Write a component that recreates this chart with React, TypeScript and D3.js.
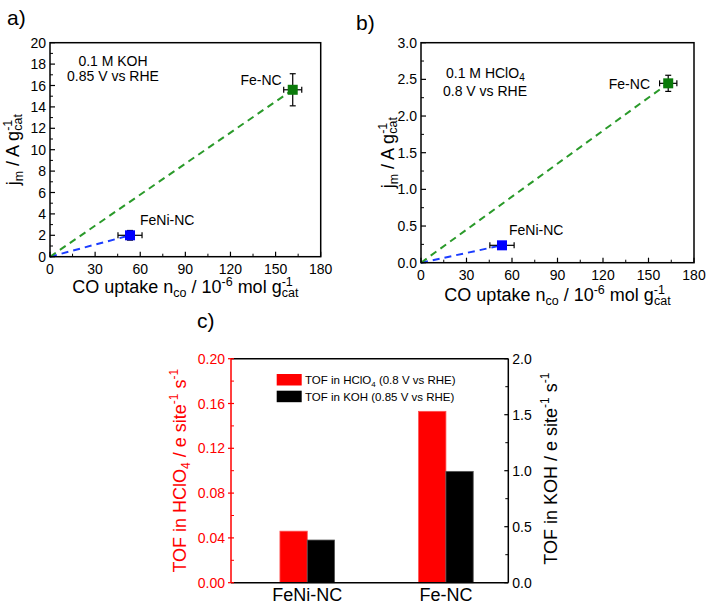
import React from "react";
import * as d3 from "d3";

const catalysts = ["FeNi-NC", "Fe-NC"];
// Panel a (0.1 M KOH, 0.85 V vs RHE)
const coUptakeA = [53.2, 161.4];
const coUptakeErrA = [8, 6];
const jmKOH = [2.0, 15.6];
const jmKOHErr = [0.45, 1.5];
// Panel b (0.1 M HClO4, 0.8 V vs RHE)
const coUptakeB = [53.4, 163];
const coUptakeErrB = [8, 5.7];
const jmHClO4 = [0.237, 2.446];
const jmHClO4Err = [0.03, 0.11];
// Panel c TOF
const tofHClO4 = [0.046, 0.153];
const tofKOH = [0.381, 0.994];

const xTicksAB = [0, 30, 60, 90, 120, 150, 180];
const yTicksA = [0, 2, 4, 6, 8, 10, 12, 14, 16, 18, 20];
const yTicksB = [0, 0.5, 1.0, 1.5, 2.0, 2.5, 3.0];
const yTicksCL = [0, 0.04, 0.08, 0.12, 0.16, 0.2];
const yTicksCR = [0, 0.5, 1.0, 1.5, 2.0];

const pointColors = ["#0000ff", "#0a7a0a"];
const lineColors = ["#1a3cff", "#2a9a2a"];
const FONT = "'Liberation Sans', Arial, sans-serif";

type Lin = d3.ScaleLinear<number, number>;

function ScatterPanel(props: {
  x: Lin; y: Lin; xs: number[]; xe: number[]; ys: number[]; ye: number[];
  yTicks: number[]; yMinor: number; yFmt: (v: number) => string;
  xLabelY: number; yLabelX: number;
}) {
  const { x, y, xs, xe, ys, ye, yTicks, yMinor, yFmt, xLabelY, yLabelX } = props;
  const [x0, x1] = x.range();
  const [yb, yt] = y.range();
  const ymax = y.domain()[1];
  const minorX = d3.range(15, 180, 30);
  const minorY = d3.range(yMinor, ymax, yMinor * 2);
  const cy = (yb + yt) / 2;
  const cx = (x0 + x1) / 2;
  return (
    <g fontFamily={FONT}>
      {xs.map((v, i) => (
        <line key={"l" + i} x1={x(0)} y1={y(0)} x2={x(v)} y2={y(ys[i])}
          stroke={lineColors[i]} strokeWidth={2} strokeDasharray="7,5" />
      ))}
      {xs.map((v, i) => (
        <g key={"p" + i} stroke="#000" strokeWidth={1.2}>
          <line x1={x(v - xe[i])} x2={x(v + xe[i])} y1={y(ys[i])} y2={y(ys[i])} />
          <line x1={x(v - xe[i])} x2={x(v - xe[i])} y1={y(ys[i]) - 3} y2={y(ys[i]) + 3} />
          <line x1={x(v + xe[i])} x2={x(v + xe[i])} y1={y(ys[i]) - 3} y2={y(ys[i]) + 3} />
          <line x1={x(v)} x2={x(v)} y1={y(ys[i] - ye[i])} y2={y(ys[i] + ye[i])} />
          <line x1={x(v) - 3} x2={x(v) + 3} y1={y(ys[i] - ye[i])} y2={y(ys[i] - ye[i])} />
          <line x1={x(v) - 3} x2={x(v) + 3} y1={y(ys[i] + ye[i])} y2={y(ys[i] + ye[i])} />
          <rect x={x(v) - 5} y={y(ys[i]) - 5} width={10} height={10} fill={pointColors[i]} stroke="none" />
        </g>
      ))}
      <rect x={x0} y={yt} width={x1 - x0} height={yb - yt} fill="none" stroke="#000" strokeWidth={1.5} />
      {xTicksAB.map((t) => (
        <g key={"xt" + t}>
          <line x1={x(t)} x2={x(t)} y1={yb} y2={yb - 5} stroke="#000" strokeWidth={1.2} />
          <text x={x(t)} y={yb + 17} fontSize={14} textAnchor="middle">{t}</text>
        </g>
      ))}
      {minorX.map((t) => (
        <line key={"xm" + t} x1={x(t)} x2={x(t)} y1={yb} y2={yb - 3} stroke="#000" strokeWidth={1} />
      ))}
      {yTicks.map((t) => (
        <g key={"yt" + t}>
          <line x1={x0} x2={x0 + 5} y1={y(t)} y2={y(t)} stroke="#000" strokeWidth={1.2} />
          <text x={x0 - 4} y={y(t) + 5} fontSize={14} textAnchor="end">{yFmt(t)}</text>
        </g>
      ))}
      {minorY.map((t) => (
        <line key={"ym" + t} x1={x0} x2={x0 + 3} y1={y(t)} y2={y(t)} stroke="#000" strokeWidth={1} />
      ))}
      <text x={cx} y={xLabelY} fontSize={18} textAnchor="middle">
        CO uptake n<tspan fontSize={12.5} dy={4}>co</tspan>
        <tspan dy={-4}> / 10</tspan><tspan fontSize={12.5} dy={-7}>-6</tspan>
        <tspan dy={7}> mol g</tspan><tspan fontSize={12.5} dy={-7}>-1</tspan>
        <tspan fontSize={12.5} dx={-11} dy={11}>cat</tspan>
      </text>
      <text transform={`translate(${yLabelX},${cy}) rotate(-90)`} fontSize={18} textAnchor="middle">
        j<tspan fontSize={12.5} dy={4}>m</tspan>
        <tspan dy={-4}> / A g</tspan><tspan fontSize={12.5} dy={-7}>-1</tspan>
        <tspan fontSize={12.5} dx={-11} dy={10}>cat</tspan>
      </text>
    </g>
  );
}

export default function App() {
  const xa = d3.scaleLinear().domain([0, 180]).range([50, 320.7]);
  const ya = d3.scaleLinear().domain([0, 20]).range([256.7, 42.7]);
  const xb = d3.scaleLinear().domain([0, 180]).range([421, 694]);
  const yb = d3.scaleLinear().domain([0, 3]).range([262.7, 42.7]);
  const xc = d3.scaleLinear().domain([0.45, 2.45]).range([231, 508.3]);
  const ycl = d3.scaleLinear().domain([0, 0.2]).range([582.7, 358.7]);
  const ycr = d3.scaleLinear().domain([0, 2]).range([582.7, 358.7]);
  const bw = 0.197;
  const cBottom = 582.7, cTop = 358.7, cL = 231, cR = 508.3;

  return (
    <svg width={708} height={604} style={{ position: "absolute", left: 0, top: 0 }}
      fontFamily={FONT}>
      <rect width={708} height={604} fill="#fff" />
      {/* panel labels */}
      <text x={7} y={25} fontSize={21}>a)</text>
      <text x={356} y={30} fontSize={21}>b)</text>
      <text x={197} y={328} fontSize={21}>c)</text>

      <ScatterPanel x={xa} y={ya} xs={coUptakeA} xe={coUptakeErrA} ys={jmKOH} ye={jmKOHErr}
        yTicks={yTicksA} yMinor={1} yFmt={(v) => String(v)} xLabelY={293} yLabelX={19} />
      <text x={113} y={66} fontSize={14} textAnchor="middle">0.1 M KOH</text>
      <text x={113} y={81} fontSize={14} textAnchor="middle">0.85 V vs RHE</text>
      <text x={xa(coUptakeA[1]) - 11} y={ya(jmKOH[1]) - 5} fontSize={14} textAnchor="end">{catalysts[1]}</text>
      <text x={140} y={225} fontSize={14}>{catalysts[0]}</text>

      <ScatterPanel x={xb} y={yb} xs={coUptakeB} xe={coUptakeErrB} ys={jmHClO4} ye={jmHClO4Err}
        yTicks={yTicksB} yMinor={0.25} yFmt={(v) => v.toFixed(1)} xLabelY={301} yLabelX={394} />
      <text x={446} y={78} fontSize={14}>0.1 M HClO<tspan fontSize={10} dy={3}>4</tspan></text>
      <text x={443} y={96} fontSize={14}>0.8 V vs RHE</text>
      <text x={650} y={89} fontSize={14} textAnchor="end">{catalysts[1]}</text>
      <text x={509} y={235} fontSize={14}>{catalysts[0]}</text>

      {/* panel c */}
      <g>
        {catalysts.map((c, i) => (
          <g key={c}>
            <rect x={xc(i + 1 - bw)} y={ycl(tofHClO4[i])} width={xc(i + 1) - xc(i + 1 - bw)}
              height={cBottom - ycl(tofHClO4[i])} fill="#ff0000" stroke="#ff5050" strokeWidth={0.8} />
            <rect x={xc(i + 1)} y={ycr(tofKOH[i])} width={xc(i + 1 + bw) - xc(i + 1)}
              height={cBottom - ycr(tofKOH[i])} fill="#000" stroke="#555" strokeWidth={0.8} />
            <text x={xc(i + 1)} y={601} fontSize={18} textAnchor="middle">{c}</text>
          </g>
        ))}
        <line x1={cL} x2={cR} y1={cTop} y2={cTop} stroke="#000" strokeWidth={1.5} />
        <line x1={cL} x2={cR} y1={cBottom} y2={cBottom} stroke="#000" strokeWidth={1.5} />
        <line x1={cL} x2={cL} y1={cTop} y2={cBottom} stroke="#ff0000" strokeWidth={1.5} />
        <line x1={cR} x2={cR} y1={cTop} y2={cBottom} stroke="#000" strokeWidth={1.5} />
        {yTicksCL.map((t) => (
          <g key={"cl" + t}>
            <line x1={cL - 3} x2={cL + 3} y1={ycl(t)} y2={ycl(t)} stroke="#ff0000" strokeWidth={1.2} />
            <text x={cL - 6} y={ycl(t) + 5} fontSize={14} fill="#ff0000" textAnchor="end">{t.toFixed(2)}</text>
          </g>
        ))}
        {d3.range(0.02, 0.2, 0.04).map((t) => (
          <line key={"clm" + t} x1={cL} x2={cL + 3} y1={ycl(t)} y2={ycl(t)} stroke="#ff0000" strokeWidth={1} />
        ))}
        {yTicksCR.map((t) => (
          <g key={"cr" + t}>
            <line x1={cR - 4} x2={cR} y1={ycr(t)} y2={ycr(t)} stroke="#000" strokeWidth={1.2} />
            <text x={cR + 4} y={ycr(t) + 5} fontSize={14} textAnchor="start">{t.toFixed(1)}</text>
          </g>
        ))}
        {d3.range(0.25, 2, 0.5).map((t) => (
          <line key={"crm" + t} x1={cR - 3} x2={cR} y1={ycr(t)} y2={ycr(t)} stroke="#000" strokeWidth={1} />
        ))}
        <rect x={276.7} y={374} width={25} height={11.5} fill="#ff0000" />
        <rect x={276.7} y={390.7} width={25} height={11.5} fill="#000" />
        <text x={305} y={384} fontSize={11.5}>TOF in HClO<tspan fontSize={8} dy={2.5}>4</tspan><tspan dy={-2.5}> (0.8 V vs RHE)</tspan></text>
        <text x={305} y={400.5} fontSize={11.5}>TOF in KOH (0.85 V vs RHE)</text>
        <text transform={`translate(186,${(cTop + cBottom) / 2}) rotate(-90)`} fontSize={18}
          fill="#ff0000" textAnchor="middle">
          TOF in HClO<tspan fontSize={12} dy={4}>4</tspan><tspan dy={-4}> / e site</tspan>
          <tspan fontSize={12} dy={-8}>-1</tspan><tspan dy={8}> s</tspan>
          <tspan fontSize={12} dy={-8}>-1</tspan>
        </text>
        <text transform={`translate(557,${(cTop + cBottom) / 2 - 2}) rotate(-90)`} fontSize={18}
          fill="#000" textAnchor="middle">
          TOF in KOH / e site<tspan fontSize={12} dy={-8}>-1</tspan><tspan dy={8}> s</tspan>
          <tspan fontSize={12} dy={-8}>-1</tspan>
        </text>
      </g>
    </svg>
  );
}
